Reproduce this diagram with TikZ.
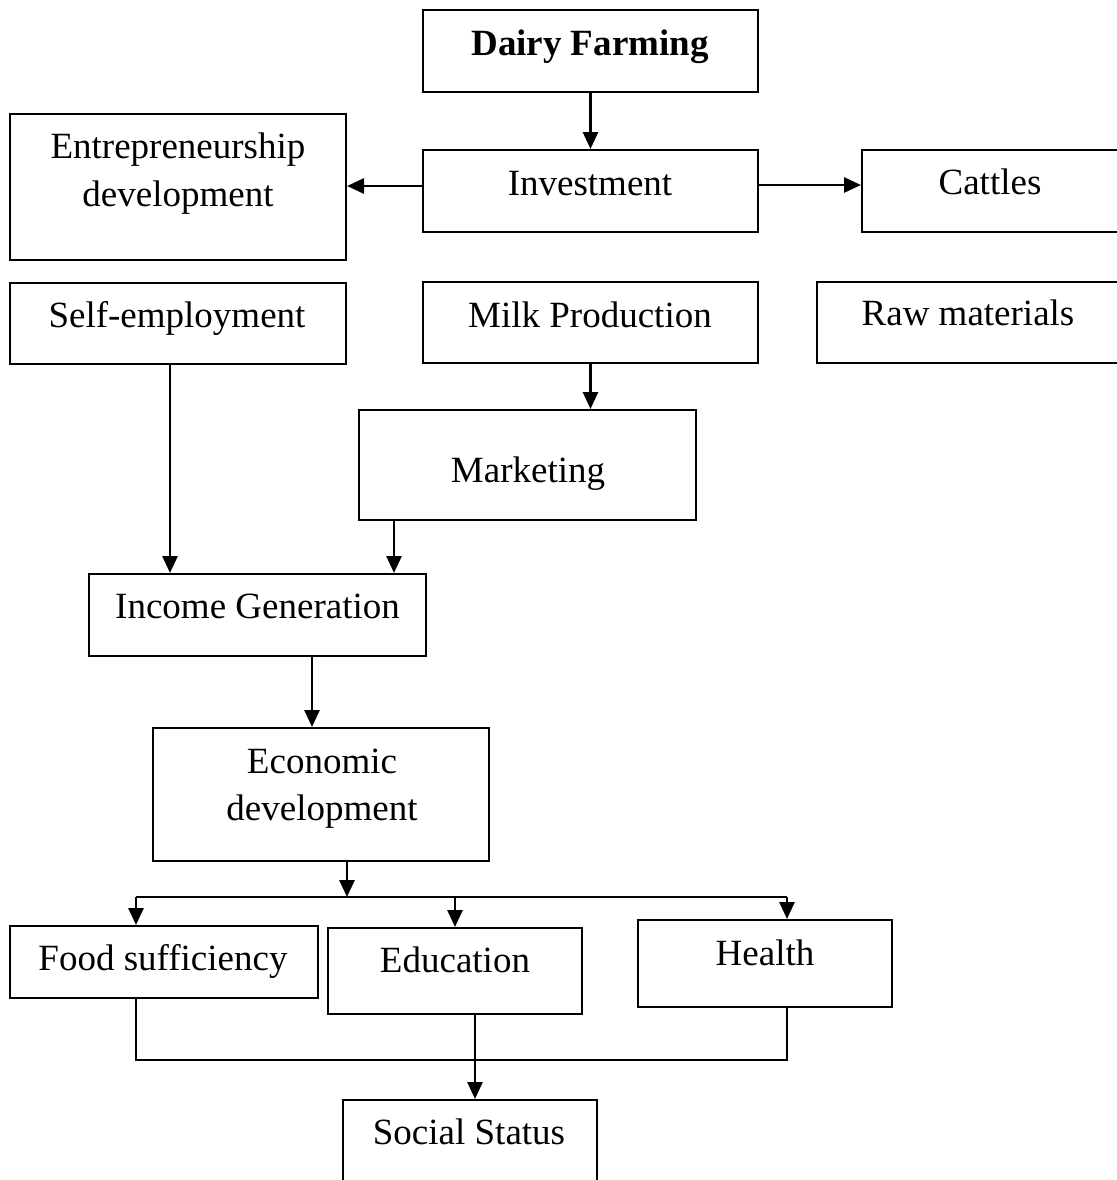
\documentclass[tikz,border=0pt]{standalone}
\usepackage{fontspec}
\setmainfont{Liberation Serif}
\usetikzlibrary{arrows.meta}
\begin{document}
\begin{tikzpicture}[x=0.5pt,y=-0.5pt,
  box/.style={draw, line width=1pt, rectangle, inner sep=0pt},
  lbl/.style={anchor=base, inner sep=0pt, font=\fontsize{18.5}{22}\selectfont},
  arr/.style={line width=1.4pt, -{Triangle[length=8.5pt,width=7.5pt]}},
  ln/.style={line width=1.2pt}]
\useasboundingbox (0,0) rectangle (1116,1180);
% boxes
\node[box, minimum width=167.5pt, minimum height=41pt] (dairy) at (590.5,51) {};
\node[box, minimum width=168pt, minimum height=73pt] (entre) at (178,187) {};
\node[box, minimum width=167.5pt, minimum height=41pt] (invest) at (590.5,191) {};
\node[box, minimum width=134pt, minimum height=41pt] (cattle) at (996,191) {};
\node[box, minimum width=168pt, minimum height=40.5pt] (self) at (178,323.5) {};
\node[box, minimum width=167.5pt, minimum height=40.5pt] (milk) at (590.5,322.5) {};
\node[box, minimum width=154pt, minimum height=40.5pt] (raw) at (971,322.5) {};
\node[box, minimum width=168.5pt, minimum height=55pt] (market) at (527.5,465) {};
\node[box, minimum width=168.5pt, minimum height=41pt] (income) at (257.5,615) {};
\node[box, minimum width=168pt, minimum height=66.5pt] (econ) at (321,794.5) {};
\node[box, minimum width=154pt, minimum height=36pt] (food) at (164,962) {};
\node[box, minimum width=127pt, minimum height=43pt] (edu) at (455,971) {};
\node[box, minimum width=127pt, minimum height=43.5pt] (health) at (765,963.5) {};
\node[box, minimum width=127pt, minimum height=45pt] (social) at (470,1145) {};
% labels
\node[lbl, font=\fontsize{18.5}{22}\selectfont\bfseries] (tdairy) at (590,55) {Dairy Farming};
\node[lbl] (tentre1) at (178,158) {Entrepreneurship};
\node[lbl] (tentre2) at (178,206) {development};
\node[lbl] (tinvest) at (590,195) {Investment};
\node[lbl] (tcattle) at (990,194) {Cattles};
\node[lbl] (tself) at (177,327) {Self-employment};
\node[lbl] (tmilk) at (590,327) {Milk Production};
\node[lbl] (traw) at (968,325) {Raw materials};
\node[lbl] (tmarket) at (528,482) {Marketing};
\node[lbl] (tincome) at (257.5,618) {Income Generation};
\node[lbl] (tecon1) at (322,773) {Economic};
\node[lbl] (tecon2) at (322,820) {development};
\node[lbl] (tfood) at (163,970) {Food sufficiency};
\node[lbl] (tedu) at (455,972) {Education};
\node[lbl] (thealth) at (765,965) {Health};
\node[lbl] (tsocial) at (469,1144) {Social Status};
% coordinates
\coordinate (jl) at (136,897);
\coordinate (jr) at (787,897);
\coordinate (bl) at (136,1060);
\coordinate (br) at (787,1060);
% connectors
\draw[arr] (dairy.south) -- (invest.north);
\draw[arr] ([yshift=2.5pt]invest.west) -- ([yshift=2.5pt]invest.west -| entre.east);
\draw[arr] ([yshift=3pt]invest.east) -- ([yshift=3pt]invest.east -| cattle.west);
\draw[arr] (milk.south) -- (milk.south |- market.north);
\draw[arr] ([xshift=-4pt]self.south) -- ([xshift=-4pt]self.south |- income.north);
\draw[arr] (market.south -| 394,0) -- (income.north -| 394,0);
\draw[arr] (income.south -| 312,0) -- (econ.north -| 312,0);
\draw[arr] (econ.south -| 347,0) -- (347,897);
\draw[ln] (jl) -- (jr);
\draw[arr] (jl) -- (jl |- food.north);
\draw[arr] (jl -| edu.north) -- (edu.north);
\draw[arr] (jr) -- (jr |- health.north);
\draw[ln] (food.south -| bl) -- (bl) -- (br) -- (health.south -| br);
\draw[arr] (edu.south -| 475,0) -- (social.north -| 475,0);
\end{tikzpicture}
\end{document}
